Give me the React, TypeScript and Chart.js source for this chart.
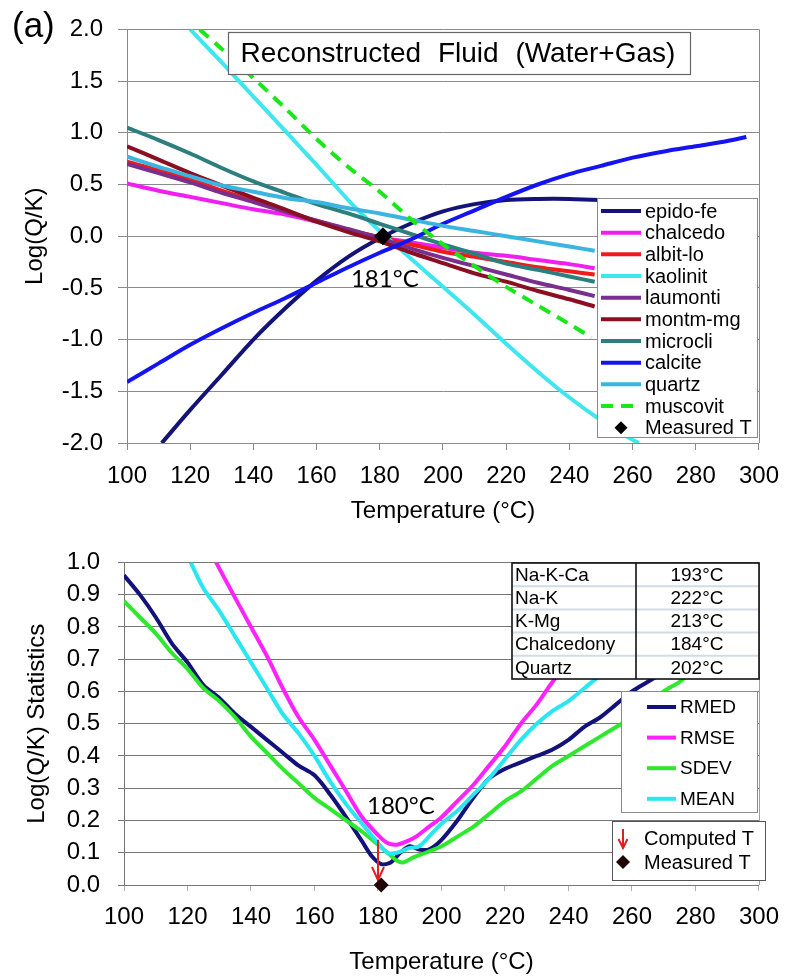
import React, { useEffect, useRef } from "react";
import { Chart, registerables } from "chart.js";
Chart.register(...registerables);

// ---------- DATA: top chart (saturation indices) ----------
const xTickValues = [100, 120, 140, 160, 180, 200, 220, 240, 260, 280, 300];
const topYTickValues = [-2, -1.5, -1, -0.5, 0, 0.5, 1, 1.5, 2];
const botYTickValues = [0, 0.1, 0.2, 0.3, 0.4, 0.5, 0.6, 0.7, 0.8, 0.9, 1.0];

const tBase = [100, 110, 120, 130, 140, 150, 160, 170, 180, 190, 200, 210, 220, 230, 240, 248];
const chalcedo = [0.51, 0.44, 0.38, 0.32, 0.26, 0.21, 0.14, 0.06, -0.01, -0.06, -0.11, -0.16, -0.19, -0.23, -0.27, -0.31];
const albitLo = [0.72, 0.64, 0.55, 0.44, 0.34, 0.24, 0.15, 0.06, -0.01, -0.08, -0.15, -0.2, -0.25, -0.3, -0.34, -0.37];
const laumonti = [0.7, 0.61, 0.52, 0.42, 0.33, 0.24, 0.15, 0.07, -0.02, -0.12, -0.21, -0.29, -0.37, -0.45, -0.52, -0.58];
const montmMg = [0.87, 0.74, 0.61, 0.49, 0.37, 0.26, 0.14, 0.04, -0.05, -0.16, -0.26, -0.36, -0.44, -0.53, -0.61, -0.68];
const microcli = [1.05, 0.93, 0.8, 0.66, 0.53, 0.42, 0.31, 0.22, 0.12, 0.02, -0.08, -0.17, -0.265, -0.325, -0.39, -0.44];
const quartz = [0.77, 0.67, 0.58, 0.49, 0.43, 0.37, 0.33, 0.27, 0.22, 0.16, 0.1, 0.05, 0.0, -0.05, -0.1, -0.14];

const tEpido = [111, 120, 130, 140, 150, 160, 170, 180, 190, 200, 210, 220, 230, 240, 250, 256];
const epidoFe = [-2.0, -1.68, -1.34, -1.0, -0.7, -0.43, -0.2, -0.02, 0.125, 0.24, 0.31, 0.35, 0.36, 0.36, 0.35, 0.34];

const tCalcite = [100, 110, 120, 130, 140, 150, 160, 170, 180, 190, 200, 210, 220, 230, 240, 250, 260, 270, 280, 290, 296];
const calcite = [-1.41, -1.23, -1.05, -0.89, -0.74, -0.6, -0.45, -0.3, -0.16, -0.03, 0.12, 0.25, 0.38, 0.5, 0.6, 0.68, 0.76, 0.82, 0.87, 0.92, 0.96];

const tKaolinit = [120, 130, 140, 150, 160, 170, 180, 190, 200, 210, 220, 230, 240, 250, 260, 262];
const kaolinit = [2.0, 1.68, 1.35, 1.02, 0.69, 0.35, 0.05, -0.22, -0.49, -0.76, -1.04, -1.31, -1.56, -1.78, -1.97, -2.0];

const tMuscovit = [123, 130, 140, 150, 160, 170, 180, 190, 200, 210, 220, 230, 240, 247];
const muscovit = [2.0, 1.81, 1.53, 1.24, 0.94, 0.67, 0.43, 0.16, -0.08, -0.29, -0.49, -0.67, -0.85, -0.98];

const measuredT = [181];
const measuredLogQK = [0];
const measuredLabel = "181°C";

// ---------- DATA: bottom chart (statistics) ----------
const tRmed = [100, 105, 110, 115, 120, 125, 130, 135, 140, 145, 150, 155, 160, 165, 170, 175, 178, 181, 184, 187, 190, 193, 196, 200, 205, 210, 215, 220, 225, 230, 235, 240, 245, 250, 255, 260, 265, 270, 275, 280, 285, 290, 295, 300];
const rmed = [0.96, 0.9, 0.83, 0.75, 0.69, 0.62, 0.58, 0.53, 0.49, 0.45, 0.41, 0.37, 0.34, 0.28, 0.21, 0.135, 0.09, 0.065, 0.07, 0.1, 0.12, 0.11, 0.11, 0.14, 0.2, 0.27, 0.33, 0.36, 0.38, 0.4, 0.42, 0.45, 0.49, 0.52, 0.56, 0.6, 0.63, 0.66, 0.7, 0.73, 0.76, 0.79, 0.81, 0.83];

const tSdev = [100, 105, 110, 115, 120, 125, 130, 135, 140, 145, 150, 155, 160, 165, 170, 175, 180, 183, 186, 188, 191, 195, 200, 205, 210, 215, 220, 225, 230, 235, 240, 245, 250, 255, 260, 265, 270, 275, 280, 285, 290, 295, 300];
const sdev = [0.88, 0.83, 0.78, 0.72, 0.67, 0.61, 0.57, 0.52, 0.46, 0.41, 0.36, 0.315, 0.27, 0.235, 0.2, 0.165, 0.125, 0.1, 0.075, 0.07, 0.085, 0.1, 0.12, 0.15, 0.18, 0.22, 0.26, 0.29, 0.33, 0.37, 0.4, 0.43, 0.46, 0.49, 0.52, 0.56, 0.6, 0.63, 0.67, 0.7, 0.73, 0.76, 0.78];

const tMean = [121, 125, 130, 135, 140, 145, 150, 155, 160, 165, 170, 175, 180, 183, 186, 190, 193, 197, 200, 205, 210, 215, 220, 225, 230, 235, 240, 245, 250, 260, 270, 280, 290, 299];
const mean = [1.0, 0.92, 0.85, 0.77, 0.69, 0.61, 0.53, 0.47, 0.4, 0.32, 0.25, 0.19, 0.13, 0.1, 0.1, 0.115, 0.12, 0.16, 0.19, 0.23, 0.28, 0.33, 0.39, 0.45, 0.5, 0.54, 0.57, 0.61, 0.65, 0.72, 0.79, 0.86, 0.93, 1.0];

const tRmse = [129, 135, 140, 145, 150, 155, 160, 165, 170, 175, 180, 183, 186, 189, 192, 196, 200, 205, 210, 215, 220, 225, 230, 235, 240, 245, 250, 255, 260, 265, 270, 272];
const rmse = [1.0, 0.89, 0.8, 0.71, 0.61, 0.52, 0.45, 0.37, 0.29, 0.21, 0.155, 0.13, 0.125, 0.135, 0.15, 0.18, 0.21, 0.26, 0.31, 0.37, 0.43, 0.5, 0.56, 0.63, 0.69, 0.75, 0.8, 0.85, 0.9, 0.94, 0.98, 1.0];

const computedT = [180];
const computedArrowTop = [0.14];
const computedLabel = "180°C";

const geoNames = ["Na-K-Ca", "Na-K", "K-Mg", "Chalcedony", "Quartz"];
const geoTemps = ["193°C", "222°C", "213°C", "184°C", "202°C"];

// ---------- STYLE ----------
const FONT = '"Liberation Sans", Arial, Helvetica, sans-serif';
const CAL = 'Lato, "Open Sans", sans-serif';
const GRID = "#8a8a8a";
const GRID2 = "#767676";

const pair = (xs: number[], ys: number[]) => xs.map((x, i) => ({ x, y: ys[i] }));

const topSeries = [
  { label: "epido-fe", xs: tEpido, ys: epidoFe, color: "#141478", dash: [] as number[] },
  { label: "chalcedo", xs: tBase, ys: chalcedo, color: "#f01ef0", dash: [] },
  { label: "albit-lo", xs: tBase, ys: albitLo, color: "#ee1c1c", dash: [] },
  { label: "kaolinit", xs: tKaolinit, ys: kaolinit, color: "#3ee6ee", dash: [] },
  { label: "laumonti", xs: tBase, ys: laumonti, color: "#7a2e8e", dash: [] },
  { label: "montm-mg", xs: tBase, ys: montmMg, color: "#8a0f22", dash: [] },
  { label: "microcli", xs: tBase, ys: microcli, color: "#2c7f7c", dash: [] },
  { label: "calcite", xs: tCalcite, ys: calcite, color: "#1414f0", dash: [] },
  { label: "quartz", xs: tBase, ys: quartz, color: "#3ab4e0", dash: [] },
  { label: "muscovit", xs: tMuscovit, ys: muscovit, color: "#18e818", dash: [12, 8] },
];

const botSeries = [
  { label: "RMED", xs: tRmed, ys: rmed, color: "#12127a" },
  { label: "RMSE", xs: tRmse, ys: rmse, color: "#ff22ff" },
  { label: "SDEV", xs: tSdev, ys: sdev, color: "#2ee82e" },
  { label: "MEAN", xs: tMean, ys: mean, color: "#2ae6f0" },
];

function diamond(ctx: CanvasRenderingContext2D, x: number, y: number, r: number, color: string) {
  ctx.beginPath();
  ctx.moveTo(x, y - r);
  ctx.lineTo(x + r, y);
  ctx.lineTo(x, y + r);
  ctx.lineTo(x - r, y);
  ctx.closePath();
  ctx.fillStyle = color;
  ctx.fill();
}

function downArrow(ctx: CanvasRenderingContext2D, x: number, y1: number, y2: number, hw: number, hh: number) {
  ctx.strokeStyle = "#e02020";
  ctx.lineWidth = 2;
  ctx.beginPath();
  ctx.moveTo(x, y1);
  ctx.lineTo(x, y2);
  ctx.moveTo(x - hw, y2 - hh);
  ctx.lineTo(x, y2);
  ctx.lineTo(x + hw, y2 - hh);
  ctx.stroke();
}

const topDecor = {
  id: "topDecor",
  afterDraw(chart: any) {
    const ctx: CanvasRenderingContext2D = chart.ctx;
    const a = chart.chartArea;
    const xs = chart.scales.x;
    const ys = chart.scales.y;
    ctx.save();
    // right border
    ctx.strokeStyle = GRID;
    ctx.lineWidth = 1;
    ctx.beginPath();
    ctx.moveTo(Math.round(a.right) + 0.5, a.top);
    ctx.lineTo(Math.round(a.right) + 0.5, a.bottom);
    ctx.stroke();

    // panel letter
    ctx.fillStyle = "#000";
    ctx.font = `35px ${FONT}`;
    ctx.textAlign = "left";
    ctx.textBaseline = "alphabetic";
    ctx.fillText("(a)", 12, 37);

    // title box
    ctx.fillStyle = "#fff";
    ctx.fillRect(228, 32, 462, 42);
    ctx.strokeStyle = "#666";
    ctx.lineWidth = 1.2;
    ctx.strokeRect(228.5, 32.5, 462, 42);
    ctx.fillStyle = "#000";
    ctx.font = `28px ${FONT}`;
    (ctx as any).wordSpacing = "9px";
    ctx.textAlign = "center";
    ctx.textBaseline = "middle";
    ctx.fillText("Reconstructed Fluid (Water+Gas)", 458, 54);
    (ctx as any).wordSpacing = "0px";

    // measured temperature label
    const px = xs.getPixelForValue(measuredT[0]);
    const py = ys.getPixelForValue(measuredLogQK[0]);
    ctx.font = `24px ${CAL}`;
    ctx.textAlign = "left";
    ctx.textBaseline = "alphabetic";
    ctx.fillText(measuredLabel, px - 32, py + 51);

    // legend
    const L = { x: 597, y: 198, w: 160, h: 239 };
    ctx.fillStyle = "#fff";
    ctx.fillRect(L.x, L.y, L.w, L.h);
    ctx.strokeStyle = "#8a8a8a";
    ctx.lineWidth = 1;
    ctx.strokeRect(L.x + 0.5, L.y + 0.5, L.w, L.h);
    ctx.font = `20px ${FONT}`;
    ctx.textBaseline = "middle";
    const step = 21.67;
    topSeries.forEach((s, i) => {
      const cy = L.y + 13 + i * step;
      ctx.strokeStyle = s.color;
      ctx.lineWidth = 4;
      ctx.setLineDash(s.dash);
      ctx.beginPath();
      ctx.moveTo(601, cy);
      ctx.lineTo(641, cy);
      ctx.stroke();
      ctx.setLineDash([]);
      ctx.fillStyle = "#000";
      ctx.fillText(s.label, 645, cy + 1);
    });
    const cyM = L.y + 13 + topSeries.length * step;
    diamond(ctx, 621, cyM, 6.5, "#000");
    ctx.fillStyle = "#000";
    ctx.fillText("Measured T", 645, cyM + 1);
    ctx.restore();
  },
};

const botDecor = {
  id: "botDecor",
  afterDatasetDraw(chart: any, args: any) {
    if (args.index !== botSeries.length - 1) return;
    const ctx: CanvasRenderingContext2D = chart.ctx;
    const xs = chart.scales.x;
    const ys = chart.scales.y;
    const x = xs.getPixelForValue(computedT[0]);
    const y1 = ys.getPixelForValue(computedArrowTop[0]);
    const y2 = ys.getPixelForValue(0) - 5;
    ctx.save();
    downArrow(ctx, x, y1, y2, 6, 13);
    ctx.restore();
  },
  afterDraw(chart: any) {
    const ctx: CanvasRenderingContext2D = chart.ctx;
    const a = chart.chartArea;
    const xs = chart.scales.x;
    const ys = chart.scales.y;
    ctx.save();
    ctx.strokeStyle = "#a0a0a0";
    ctx.lineWidth = 1;
    ctx.beginPath();
    ctx.moveTo(Math.round(a.right) + 0.5, a.top);
    ctx.lineTo(Math.round(a.right) + 0.5, a.bottom);
    ctx.stroke();

    // computed T label
    const px = xs.getPixelForValue(computedT[0]);
    const py = ys.getPixelForValue(0);
    ctx.fillStyle = "#000";
    ctx.font = `24px ${CAL}`;
    ctx.textAlign = "left";
    ctx.textBaseline = "alphabetic";
    ctx.fillText(computedLabel, px - 11, py - 71);

    // geothermometer table
    const T = { x: 512, y: 33, w: 247, h: 116, div: 636 };
    const rh = T.h / geoNames.length;
    ctx.fillStyle = "#fff";
    ctx.fillRect(T.x, T.y, T.w, T.h);
    ctx.strokeStyle = "#d3dbe4";
    ctx.lineWidth = 2;
    for (let i = 1; i < geoNames.length; i++) {
      const yy = T.y + i * rh;
      ctx.beginPath();
      ctx.moveTo(T.x, yy);
      ctx.lineTo(T.x + T.w, yy);
      ctx.stroke();
    }
    ctx.strokeStyle = "#111";
    ctx.lineWidth = 1.6;
    ctx.strokeRect(T.x, T.y, T.w, T.h);
    ctx.beginPath();
    ctx.moveTo(T.div, T.y);
    ctx.lineTo(T.div, T.y + T.h);
    ctx.stroke();
    ctx.fillStyle = "#000";
    ctx.font = `19px ${FONT}`;
    ctx.textBaseline = "middle";
    geoNames.forEach((n, i) => {
      const cy = T.y + rh * (i + 0.5) + 1;
      ctx.textAlign = "left";
      ctx.fillText(n, T.x + 3, cy);
      ctx.textAlign = "center";
      ctx.fillText(geoTemps[i], 697, cy);
    });

    // legend for statistics
    const L = { x: 621, y: 161, w: 136, h: 121 };
    ctx.fillStyle = "#fff";
    ctx.fillRect(L.x, L.y, L.w, L.h);
    ctx.strokeStyle = "#8a8a8a";
    ctx.lineWidth = 1;
    ctx.strokeRect(L.x + 0.5, L.y + 0.5, L.w, L.h);
    ctx.font = `19px ${FONT}`;
    ctx.textAlign = "left";
    botSeries.forEach((s, i) => {
      const cy = L.y + 16 + i * 30.6;
      ctx.strokeStyle = s.color;
      ctx.lineWidth = 4;
      ctx.beginPath();
      ctx.moveTo(647, cy);
      ctx.lineTo(676, cy);
      ctx.stroke();
      ctx.fillStyle = "#000";
      ctx.fillText(s.label, 680, cy + 1);
    });

    // legend for markers
    const M = { x: 612, y: 291, w: 153, h: 59 };
    ctx.fillStyle = "#fff";
    ctx.fillRect(M.x, M.y, M.w, M.h);
    ctx.strokeStyle = "#555";
    ctx.lineWidth = 1;
    ctx.strokeRect(M.x + 0.5, M.y + 0.5, M.w, M.h);
    downArrow(ctx, 623, 299, 318, 4.5, 9);
    diamond(ctx, 623, 332, 7, "#200606");
    ctx.fillStyle = "#000";
    ctx.font = `20px ${FONT}`;
    ctx.fillText("Computed T", 644, 309);
    ctx.fillText("Measured T", 644, 333);
    ctx.restore();
  },
};

function topConfig(): any {
  const datasets: any[] = topSeries.map((s, i) => ({
    type: "line",
    label: s.label,
    data: pair(s.xs, s.ys),
    borderColor: s.color,
    borderWidth: 4,
    borderDash: s.dash,
    pointRadius: 0,
    tension: 0.3,
    fill: false,
    order: -i,
  }));
  datasets.push({
    type: "line",
    label: "Measured T",
    data: pair(measuredT, measuredLogQK),
    showLine: false,
    pointStyle: "rectRot",
    pointRadius: 9,
    pointBackgroundColor: "#000",
    pointBorderColor: "#000",
    pointBorderWidth: 0,
    order: -50,
    clip: false,
  });
  return {
    type: "line",
    data: { datasets },
    plugins: [topDecor],
    options: {
      animation: false,
      responsive: false,
      events: [],
      layout: { padding: { top: 26, right: 27, bottom: 0, left: 0 } },
      plugins: { legend: { display: false }, tooltip: { enabled: false } },
      scales: {
        x: {
          type: "linear",
          min: 100,
          max: 300,
          afterBuildTicks: (s: any) => { s.ticks = xTickValues.map((v) => ({ value: v })); },
          ticks: { font: { size: 24, family: FONT }, color: "#000", padding: 12, maxRotation: 0, autoSkip: false, callback: (v: any) => String(v) },
          grid: { drawOnChartArea: false, drawTicks: true, tickLength: 7, color: GRID },
          border: { color: GRID, width: 1 },
          title: { display: true, text: "Temperature (°C)", font: { size: 24, family: FONT }, color: "#000", padding: { top: 0, bottom: 4 } },
          afterFit: (s: any) => { s.height = 87; },
        },
        y: {
          type: "linear",
          min: -2,
          max: 2,
          afterBuildTicks: (s: any) => { s.ticks = topYTickValues.map((v) => ({ value: v })); },
          ticks: { font: { size: 24, family: FONT }, color: "#000", padding: 15, callback: (v: any) => Number(v).toFixed(1) },
          grid: { color: GRID, tickLength: 9 },
          border: { color: GRID, width: 1 },
          title: { display: true, text: "Log(Q/K)", font: { size: 24, family: FONT }, color: "#000", padding: { top: 21, bottom: 0 } },
          afterFit: (s: any) => { s.width = 127; },
        },
      },
    },
  };
}

function botConfig(): any {
  const datasets: any[] = botSeries.map((s, i) => ({
    type: "line",
    label: s.label,
    data: pair(s.xs, s.ys),
    borderColor: s.color,
    borderWidth: 4,
    pointRadius: 0,
    tension: 0.3,
    fill: false,
    order: -i,
  }));
  datasets.push({
    type: "line",
    label: "Measured T",
    data: pair(measuredT, measuredLogQK),
    showLine: false,
    pointStyle: "rectRot",
    pointRadius: 7.5,
    pointBackgroundColor: "#200606",
    pointBorderColor: "#200606",
    pointBorderWidth: 0,
    order: -50,
    clip: false,
  });
  return {
    type: "line",
    data: { datasets },
    plugins: [botDecor],
    options: {
      animation: false,
      responsive: false,
      events: [],
      layout: { padding: { top: 27, right: 25, bottom: 0, left: 0 } },
      plugins: { legend: { display: false }, tooltip: { enabled: false } },
      scales: {
        x: {
          type: "linear",
          min: 100,
          max: 300,
          afterBuildTicks: (s: any) => { s.ticks = xTickValues.map((v) => ({ value: v })); },
          ticks: { font: { size: 24, family: FONT }, color: "#000", padding: 12, maxRotation: 0, autoSkip: false, callback: (v: any) => String(v) },
          grid: { drawOnChartArea: false, drawTicks: true, tickLength: 6, color: "#b0b0b0" },
          border: { color: GRID2, width: 1 },
          title: { display: true, text: "Temperature (°C)", font: { size: 24, family: FONT }, color: "#000", padding: { top: 0, bottom: 0 } },
          afterFit: (s: any) => { s.height = 92; },
        },
        y: {
          type: "linear",
          min: 0,
          max: 1,
          afterBuildTicks: (s: any) => { s.ticks = botYTickValues.map((v) => ({ value: v })); },
          ticks: { font: { size: 24, family: FONT }, color: "#000", padding: 18, callback: (v: any) => Number(v).toFixed(1) },
          grid: { color: GRID2, tickLength: 6 },
          border: { color: GRID2, width: 1 },
          title: { display: true, text: "Log(Q/K) Statistics", font: { size: 24, family: FONT }, color: "#000", padding: { top: 23, bottom: 0 } },
          afterFit: (s: any) => { s.width = 124; },
        },
      },
    },
  };
}

export default function App() {
  const topRef = useRef<HTMLCanvasElement>(null);
  const botRef = useRef<HTMLCanvasElement>(null);
  useEffect(() => {
    document.body.style.margin = "0";
    document.body.style.background = "#fff";
    Chart.defaults.font.family = FONT;
    Chart.defaults.color = "#000";
    const top = new Chart(topRef.current as HTMLCanvasElement, topConfig());
    const bot = new Chart(botRef.current as HTMLCanvasElement, botConfig());
    return () => {
      top.destroy();
      bot.destroy();
    };
  }, []);
  return (
    <div style={{ position: "relative", width: 791, height: 977, background: "#fff", overflow: "hidden" }}>
      <canvas ref={topRef} width={791} height={530} style={{ position: "absolute", left: 0, top: 0, width: 791, height: 530 }} />
      <canvas ref={botRef} width={791} height={447} style={{ position: "absolute", left: 0, top: 530, width: 791, height: 447 }} />
    </div>
  );
}
